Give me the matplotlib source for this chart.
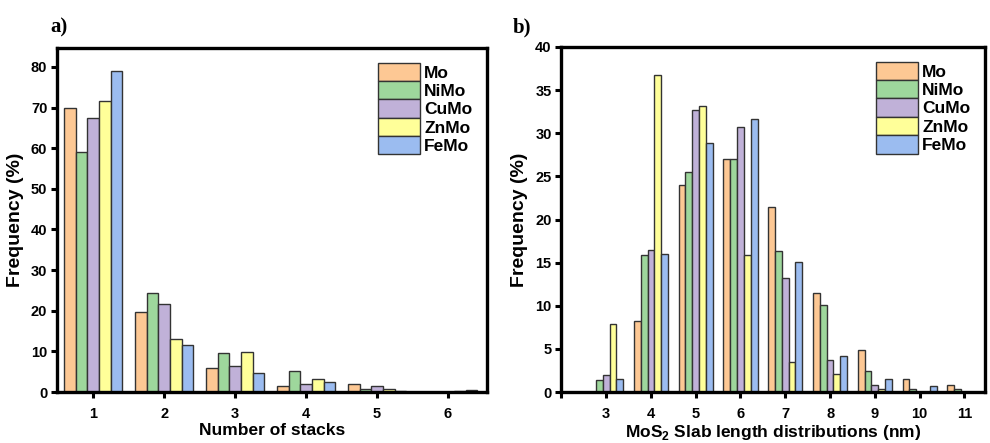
import numpy as np
import matplotlib.pyplot as plt

plt.rcParams['font.family'] = ['Liberation Sans', 'DejaVu Sans']
plt.rcParams['font.weight'] = 'bold'
plt.rcParams['mathtext.fontset'] = 'custom'
plt.rcParams['mathtext.rm'] = 'Liberation Sans:bold'
plt.rcParams['mathtext.bf'] = 'Liberation Sans:bold'

##### data
catalysts = ['Mo', 'NiMo', 'CuMo', 'ZnMo', 'FeMo']
colors = ['#FDC894', '#9ED79C', '#C0B1D8', '#FFFF99', '#9BBCF0']

# a) number of stacks
stacks = [1, 2, 3, 4, 5, 6]
stack_Mo = [70.0, 19.7, 6.0, 1.4, 1.9, 0.0]
stack_NiMo = [59.1, 24.3, 9.5, 5.1, 0.8, 0.0]
stack_CuMo = [67.4, 21.7, 6.3, 2.0, 1.5, 0.0]
stack_ZnMo = [71.5, 13.0, 9.9, 3.3, 0.7, 0.2]
stack_FeMo = [78.9, 11.5, 4.8, 2.5, 0.3, 0.6]

# b) slab length (nm)
length = [3, 4, 5, 6, 7, 8, 9, 10, 11]
len_Mo = [0.0, 8.2, 24.0, 27.0, 21.5, 11.5, 4.85, 1.55, 0.8]
len_NiMo = [1.35, 15.9, 25.5, 27.0, 16.3, 10.1, 2.4, 0.4, 0.4]
len_CuMo = [1.95, 16.5, 32.7, 30.7, 13.2, 3.7, 0.8, 0.0, 0.0]
len_ZnMo = [7.9, 36.7, 33.1, 15.9, 3.5, 2.1, 0.4, 0.0, 0.0]
len_FeMo = [1.5, 16.0, 28.9, 31.6, 15.1, 4.2, 1.5, 0.7, 0.0]


def grouped_bars(ax, x, series, width):
    x = np.array(x, dtype=float)
    for i, (vals, name, c) in enumerate(zip(series, catalysts, colors)):
        ax.bar(x + (i - 2) * width, vals, width, color=c, edgecolor='#333333',
               linewidth=1.0, label=name, zorder=2)


def style_axes(ax):
    for s in ax.spines.values():
        s.set_linewidth(2.4)
    ax.tick_params(axis='both', direction='out', length=4.5, width=2.2,
                   labelsize=10.5)
    ax.tick_params(axis='x', pad=6)
    ax.tick_params(axis='y', pad=2.5)
    for lab in ax.get_xticklabels() + ax.get_yticklabels():
        lab.set_fontweight('bold')
    ax.legend(loc='upper right', frameon=False, fontsize=12.5,
              handlelength=2.4, handleheight=1.25, labelspacing=0.0,
              handletextpad=0.25, borderaxespad=0.45)


fig = plt.figure(figsize=(9.9, 4.43), dpi=100)
ax1 = fig.add_axes([0.0576, 0.115, 0.4344, 0.777])
ax2 = fig.add_axes([0.567, 0.115, 0.428, 0.779])

grouped_bars(ax1, stacks, [stack_Mo, stack_NiMo, stack_CuMo, stack_ZnMo, stack_FeMo], 0.165)
ax1.set_xlim(0.49, 6.55)
ax1.set_ylim(0, 84.7)
ax1.set_xticks(stacks)
ax1.set_yticks(np.arange(0, 81, 10))
ax1.set_xlabel('Number of stacks', fontsize=12.5, fontweight='bold', labelpad=2)
ax1.set_ylabel('Frequency (%)', fontsize=14, fontweight='bold', labelpad=5)
style_axes(ax1)

grouped_bars(ax2, length, [len_Mo, len_NiMo, len_CuMo, len_ZnMo, len_FeMo], 0.152)
ax2.set_xlim(2.03, 11.46)
ax2.set_ylim(0, 40)
ax2.set_xticks([2] + length)
ax2.set_xticklabels([''] + [str(v) for v in length])
ax2.set_yticks(np.arange(0, 41, 5))
ax2.set_xlabel('MoS$_2$ Slab length distributions (nm)', fontsize=12.5,
               fontweight='bold', labelpad=2)
ax2.set_ylabel('Frequency (%)', fontsize=14, fontweight='bold', labelpad=5)
style_axes(ax2)

fig.text(0.051, 0.938, 'a)', fontsize=15, fontweight='bold',
         family='Liberation Serif', va='center')
fig.text(0.518, 0.938, 'b)', fontsize=15, fontweight='bold',
         family='Liberation Serif', va='center')

fig.savefig('out.png', dpi=100)
